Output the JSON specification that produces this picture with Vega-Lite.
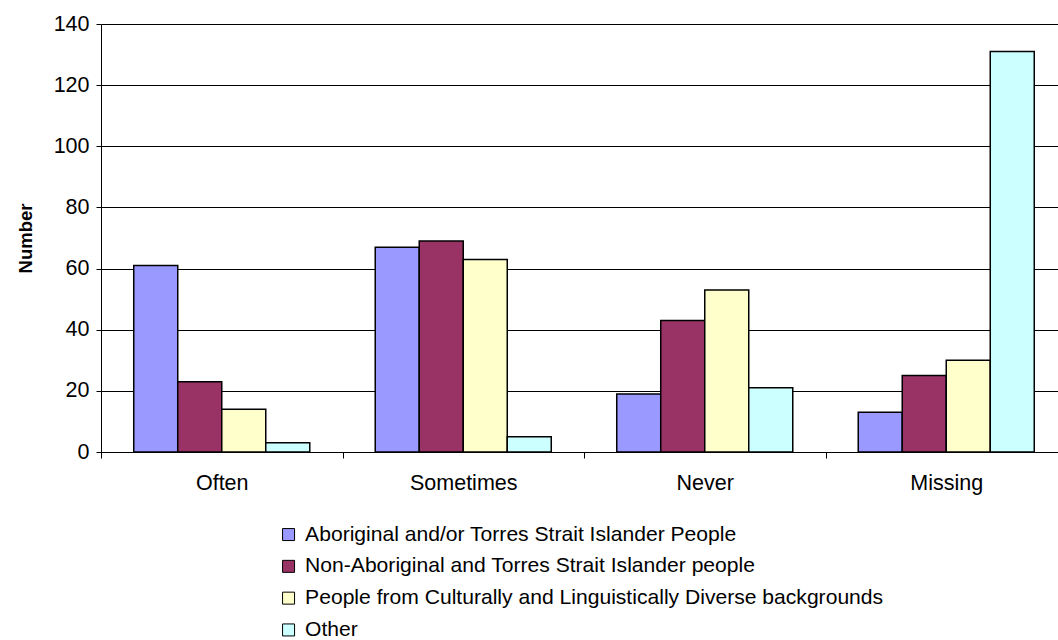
{
  "$schema": "https://vega.github.io/schema/vega-lite/v6.json",
  "width": 957,
  "height": 428,
  "autosize": {"type": "none"},
  "padding": {"left": 101, "top": 24, "right": 0, "bottom": 188},
  "background": "white",
  "config": {
    "view": {"stroke": null},
    "font": "Liberation Sans"
  },
  "data": {
    "values": [
      {"response": "Often", "group": "Aboriginal and/or Torres Strait Islander People", "number": 61},
      {"response": "Often", "group": "Non-Aboriginal and Torres Strait Islander people", "number": 23},
      {"response": "Often", "group": "People from Culturally and Linguistically Diverse backgrounds", "number": 14},
      {"response": "Often", "group": "Other", "number": 3},
      {"response": "Sometimes", "group": "Aboriginal and/or Torres Strait Islander People", "number": 67},
      {"response": "Sometimes", "group": "Non-Aboriginal and Torres Strait Islander people", "number": 69},
      {"response": "Sometimes", "group": "People from Culturally and Linguistically Diverse backgrounds", "number": 63},
      {"response": "Sometimes", "group": "Other", "number": 5},
      {"response": "Never", "group": "Aboriginal and/or Torres Strait Islander People", "number": 19},
      {"response": "Never", "group": "Non-Aboriginal and Torres Strait Islander people", "number": 43},
      {"response": "Never", "group": "People from Culturally and Linguistically Diverse backgrounds", "number": 53},
      {"response": "Never", "group": "Other", "number": 21},
      {"response": "Missing", "group": "Aboriginal and/or Torres Strait Islander People", "number": 13},
      {"response": "Missing", "group": "Non-Aboriginal and Torres Strait Islander people", "number": 25},
      {"response": "Missing", "group": "People from Culturally and Linguistically Diverse backgrounds", "number": 30},
      {"response": "Missing", "group": "Other", "number": 131}
    ]
  },
  "mark": {"type": "bar", "stroke": "#000000", "strokeWidth": 1.5, "opacity": 1},
  "encoding": {
    "x": {
      "field": "response",
      "type": "nominal",
      "sort": ["Often", "Sometimes", "Never", "Missing"],
      "scale": {"range": [0, 966], "paddingInner": 0, "paddingOuter": 0},
      "axis": {
        "title": null,
        "labelAngle": 0,
        "labelFontSize": 21.5,
        "labelColor": "#000000",
        "labelPadding": 14,
        "tickBand": "extent",
        "tickSize": 6,
        "tickColor": "#000000",
        "domainColor": "#000000",
        "grid": false
      }
    },
    "xOffset": {
      "field": "group",
      "type": "nominal",
      "sort": [
        "Aboriginal and/or Torres Strait Islander People",
        "Non-Aboriginal and Torres Strait Islander people",
        "People from Culturally and Linguistically Diverse backgrounds",
        "Other"
      ],
      "scale": {"paddingInner": 0, "paddingOuter": 0.744}
    },
    "y": {
      "field": "number",
      "type": "quantitative",
      "scale": {"domain": [0, 140], "nice": false},
      "axis": {
        "title": "Number",
        "titleFontSize": 18.5,
        "titleFontWeight": "bold",
        "titleColor": "#000000",
        "titlePadding": 18,
        "values": [0, 20, 40, 60, 80, 100, 120, 140],
        "labelFontSize": 21.5,
        "labelColor": "#000000",
        "labelPadding": 7,
        "tickSize": 5,
        "tickColor": "#000000",
        "domainColor": "#000000",
        "grid": true,
        "gridColor": "#000000",
        "gridOpacity": 1
      }
    },
    "color": {
      "field": "group",
      "type": "nominal",
      "scale": {
        "domain": [
          "Aboriginal and/or Torres Strait Islander People",
          "Non-Aboriginal and Torres Strait Islander people",
          "People from Culturally and Linguistically Diverse backgrounds",
          "Other"
        ],
        "range": ["#9999FF", "#993366", "#FFFFCC", "#CCFFFF"]
      },
      "legend": {
        "title": null,
        "orient": "none",
        "legendX": 177,
        "legendY": 500,
        "direction": "vertical",
        "symbolType": "square",
        "symbolSize": 144,
        "symbolStrokeColor": "#000000",
        "symbolStrokeWidth": 1,
        "symbolOpacity": 1,
        "labelFontSize": 21.1,
        "labelColor": "#000000",
        "labelLimit": 800,
        "labelOffset": 6,
        "rowPadding": 9.8
      }
    }
  }
}
